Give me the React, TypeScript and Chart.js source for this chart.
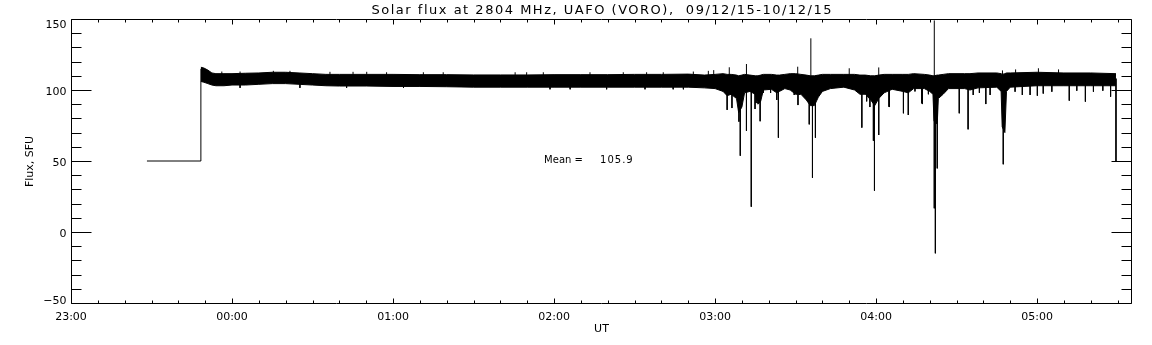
import React, { useEffect, useRef } from 'react';
import { Chart, registerables } from 'chart.js';

Chart.register(...registerables);

// Time axis: minutes after 23:00 UT (09/12/15)
const X_MIN = 0;
const X_MAX = 395;
const Y_MIN = -50;
const Y_MAX = 150;

const titleText = 'Solar flux at 2804 MHz, UAFO (VORO),  09/12/15-10/12/15';
const xAxisTitle = 'UT';
const yAxisTitle = 'Flux, SFU';
const meanPrefix = 'Mean =';
const meanValue = '105.9';
const meanPosTime = 176.3;
const meanPosFlux = 50;

const xTickMinutes = [0, 60, 120, 180, 240, 300, 360];
const xTickLabels = ['23:00', '00:00', '01:00', '02:00', '03:00', '04:00', '05:00'];
const yTickValues = [150, 100, 50, 0, -50];
const yTickLabels = ['150', '100', '50', '0', '\u221250'];

// start step (before receiver on) and end drop
const stepTimes = [28.3, 48.4, 48.4];
const stepFlux = [50, 50, 115];
const endTimes = [389.4, 389.4];
const endFlux = [108, 50];

// envelope of the noisy flux record
const bandTimes = [
  48.4, 49.5, 51, 52.5, 54, 57, 60, 65, 70, 75, 80, 85, 90, 95, 100, 110, 120, 130, 140, 150,
  160, 170, 180, 190, 200, 210, 220, 230, 236, 240, 243, 244.5, 246, 248, 248.8, 250, 251, 253,
  255, 256, 257, 258, 261, 263, 264, 266, 268, 270, 272, 274, 275.5, 277, 278.5, 280, 283, 288,
  292, 294, 296, 298, 299.5, 301, 303, 306, 310, 312, 314, 318, 320, 321.2, 321.6, 322.8, 323.2,
  325, 327, 333, 335, 338, 345, 346.6, 347, 348, 348.6, 350, 360, 370, 380, 389.4,
];
const bandUpper = [
  116, 115.5, 114, 112, 111.5, 111.5, 111.5, 111.8, 112, 112.5, 112.5, 112, 111.5, 111, 111, 111, 111, 110.8, 110.8, 110.6,
  110.6, 110.6, 110.8, 110.8, 110.8, 111, 111, 111.2, 110.5, 111, 111.5, 111, 111, 110.5, 110, 110.5, 111, 110.5,
  110, 110, 110.5, 111, 111, 110.5, 110.5, 111, 111.5, 111.5, 111, 110.5, 110, 110, 110.5, 111, 111, 111,
  111, 110.5, 110.5, 110, 110, 110.5, 111, 111, 111, 111, 111.5, 111, 110.5, 110, 110, 110.5, 110.5,
  111, 111.5, 111.5, 111.5, 112, 112, 111.5, 111, 111.5, 112, 112, 112.5, 112, 112, 111.5,
];
const bandLower = [
  106, 105.5, 104.5, 103.5, 103, 103, 103.5, 103.5, 104, 104.5, 104.5, 104, 103.5, 103, 102.8, 102.8, 102.5, 102.5, 102.3, 102,
  102, 102, 102, 102, 102, 102, 102, 102, 101.5, 101, 99, 96, 97, 94, 84, 88, 98, 99,
  97, 90, 92, 100, 100.5, 98, 99, 101, 100, 97, 97, 93, 89, 89, 95, 99, 101, 102,
  100, 97, 97, 93, 89, 94, 98, 100.5, 99, 98, 101, 101, 99, 97, 78, 76, 94,
  97, 101, 101, 100, 101.5, 102, 99, 74, 70, 99, 102, 103, 103, 103, 103,
];

// isolated spikes drawn from the band centre
const spikeBase = 106;
const dipTimes = [
  244.5, 246.3, 248.9, 249.4, 251.7, 253.5, 254.9, 256.8, 263.6, 270.9, 275.1, 276.3, 277.4,
  294.7, 299.0, 299.4, 301.0, 304.8, 310.2, 312.0, 317.3, 321.7, 322.1, 322.8, 331.0, 334.3,
  340.9, 347.4, 372.0, 378.0,
  255.3, 258.0, 260.7, 263.0, 269.5, 271.4, 296.5, 297.7, 305.0, 314.5, 317.0, 319.5, 325.7,
  336.2, 338.5, 342.5, 351.8, 354.5, 357.4, 360.1, 362.3, 365.5, 374.8, 381.0, 384.5, 387.4,
  63.0, 85.3, 102.7, 123.9, 178.5, 186.0, 199.6, 213.9, 224.4, 228.2,
];
const dipFlux = [
  86, 87.3, 77.7, 53.7, 71.3, 17.8, 86.6, 78, 66.4, 89.4, 75.8, 38.2, 66.4,
  73.5, 64.3, 29.1, 68.3, 88.2, 83.6, 82.4, 90.1, 16.7, -15, 44.8, 83.6, 72.3,
  90.1, 47.7, 92.5, 91.8,
  90.8, 97.9, 97.9, 93, 96.5, 96.5, 92, 88, 88, 99, 90.6, 97, 98.8,
  96.5, 98, 96.5, 98.8, 96.5, 96.5, 96, 97.5, 98.8, 99.5, 98.8, 99.5, 95.3,
  101.5, 101.5, 101.5, 101.5, 100.5, 100.5, 100.5, 100.5, 100.5, 100.5,
];
const peakTimes = [
  239.5, 245.3, 251.7, 270.8, 275.7, 290.0, 301.0, 321.7, 347.1,
  56.2, 63.0, 75.4, 81.6, 96.5, 105.1, 110.2, 117.6, 131.3, 138.7,
  165.5, 169.8, 176.0, 193.4, 205.8, 214.5, 220.7, 231.9, 237.5, 352.0, 360.5, 368.0,
];
const peakFlux = [
  114, 116, 118.3, 116.4, 136.4, 115.3, 115.9, 149, 113.8,
  113, 113, 113.5, 113.5, 112.8, 112.8, 112.8, 112.5, 112.5, 112.5,
  112.5, 112.5, 112.5, 112.5, 112.5, 112.5, 112.5, 113, 113.5, 114.5, 115.3, 114.5,
];

function pts(t: number[], v: number[]) {
  return t.map((x, i) => ({ x, y: v[i] }));
}
function spikes(t: number[], v: number[]) {
  const out: any[] = [];
  t.forEach((x, i) => {
    out.push({ x, y: spikeBase }, { x, y: v[i] }, { x, y: null });
  });
  return out;
}

const FONT = '"DejaVu Sans", sans-serif';

const idlAxes = {
  id: 'idlAxes',
  afterDraw(chart: any) {
    const { ctx, chartArea: a, scales } = chart;
    const xs = scales.x;
    const ys = scales.y;
    const L = Math.round(a.left) + 0.5;
    const R = Math.round(a.right) + 0.5;
    const T = Math.round(a.top) + 0.5;
    const B = Math.round(a.bottom) + 0.5;
    ctx.save();
    ctx.strokeStyle = '#000';
    ctx.fillStyle = '#000';
    ctx.lineWidth = 1;
    ctx.beginPath();
    ctx.rect(L, T, R - L, B - T);
    // y ticks
    for (let v = Y_MIN; v <= Y_MAX; v += 10) {
      const py = Math.round(ys.getPixelForValue(v)) + 0.5;
      const len = v % 50 === 0 ? 20 : 10;
      ctx.moveTo(L, py); ctx.lineTo(L + len, py);
      ctx.moveTo(R, py); ctx.lineTo(R - len, py);
    }
    // x ticks
    for (let m = X_MIN; m <= X_MAX; m += 10) {
      const px = Math.round(xs.getPixelForValue(m)) + 0.5;
      const len = m % 60 === 0 ? 5 : 3;
      ctx.moveTo(px, B); ctx.lineTo(px, B - len);
      ctx.moveTo(px, T); ctx.lineTo(px, T + len);
    }
    ctx.stroke();

    // tick labels
    ctx.font = '11px ' + FONT;
    ctx.textBaseline = 'alphabetic';
    ctx.textAlign = 'center';
    xTickMinutes.forEach((m, i) => {
      ctx.fillText(xTickLabels[i], xs.getPixelForValue(m), B + 16);
    });
    ctx.textAlign = 'right';
    yTickValues.forEach((v, i) => {
      const py = ys.getPixelForValue(v);
      let base = py + 4.5;
      if (base - 8 < T) base = T + 8;
      if (base > B) base = B;
      ctx.fillText(yTickLabels[i], L - 5, base);
    });

    // axis titles
    ctx.textAlign = 'center';
    ctx.fillText(xAxisTitle, (L + R) / 2, B + 28);
    ctx.save();
    ctx.translate(32.5, (T + B) / 2);
    ctx.rotate(-Math.PI / 2);
    ctx.fillText(yAxisTitle, 0, 0);
    ctx.restore();

    // title
    ctx.font = '13px ' + FONT;
    const target = 460;
    (ctx as any).letterSpacing = '0px';
    const w = ctx.measureText(titleText).width;
    const ls = (target - w) / (titleText.length - 1);
    (ctx as any).letterSpacing = ls + 'px';
    ctx.textAlign = 'left';
    ctx.fillText(titleText, (L + R) / 2 - target / 2, 14);
    (ctx as any).letterSpacing = '0px';

    // mean annotation
    ctx.font = '10px ' + FONT;
    ctx.textAlign = 'left';
    const mx = xs.getPixelForValue(meanPosTime);
    const my = ys.getPixelForValue(meanPosFlux) + 1.5;
    ctx.fillText(meanPrefix, mx, my);
    (ctx as any).letterSpacing = '1px';
    ctx.fillText(meanValue, mx + 56, my);
    (ctx as any).letterSpacing = '0px';
    ctx.restore();
  },
};

export default function App() {
  const ref = useRef<HTMLCanvasElement>(null);
  useEffect(() => {
    const line = { borderColor: '#000', borderWidth: 1, pointRadius: 0, fill: false, tension: 0 };
    const chart = new Chart(ref.current as HTMLCanvasElement, {
      type: 'line',
      data: {
        datasets: [
          { ...line, data: pts(stepTimes, stepFlux) },
          { ...line, data: pts(bandTimes, bandUpper), fill: '+1', backgroundColor: '#000' },
          { ...line, data: pts(bandTimes, bandLower) },
          { ...line, data: spikes(dipTimes, dipFlux), spanGaps: false },
          { ...line, data: spikes(peakTimes, peakFlux), spanGaps: false },
          { ...line, data: pts(endTimes, endFlux) },
        ] as any,
      },
      options: {
        responsive: false,
        animation: false,
        devicePixelRatio: 1,
        layout: { padding: { left: 71, right: 21, top: 19, bottom: 42 } },
        scales: {
          x: { type: 'linear', min: X_MIN, max: X_MAX, display: false },
          y: { type: 'linear', min: Y_MIN, max: Y_MAX, display: false },
        },
        plugins: {
          legend: { display: false },
          tooltip: { enabled: false },
          title: { display: false },
        },
      } as any,
      plugins: [idlAxes],
    });
    return () => chart.destroy();
  }, []);
  return (
    <div style={{ position: 'absolute', left: 0, top: 0, width: 1152, height: 345, background: '#fff' }}>
      <canvas ref={ref} width={1152} height={345} style={{ display: 'block' }} />
    </div>
  );
}
